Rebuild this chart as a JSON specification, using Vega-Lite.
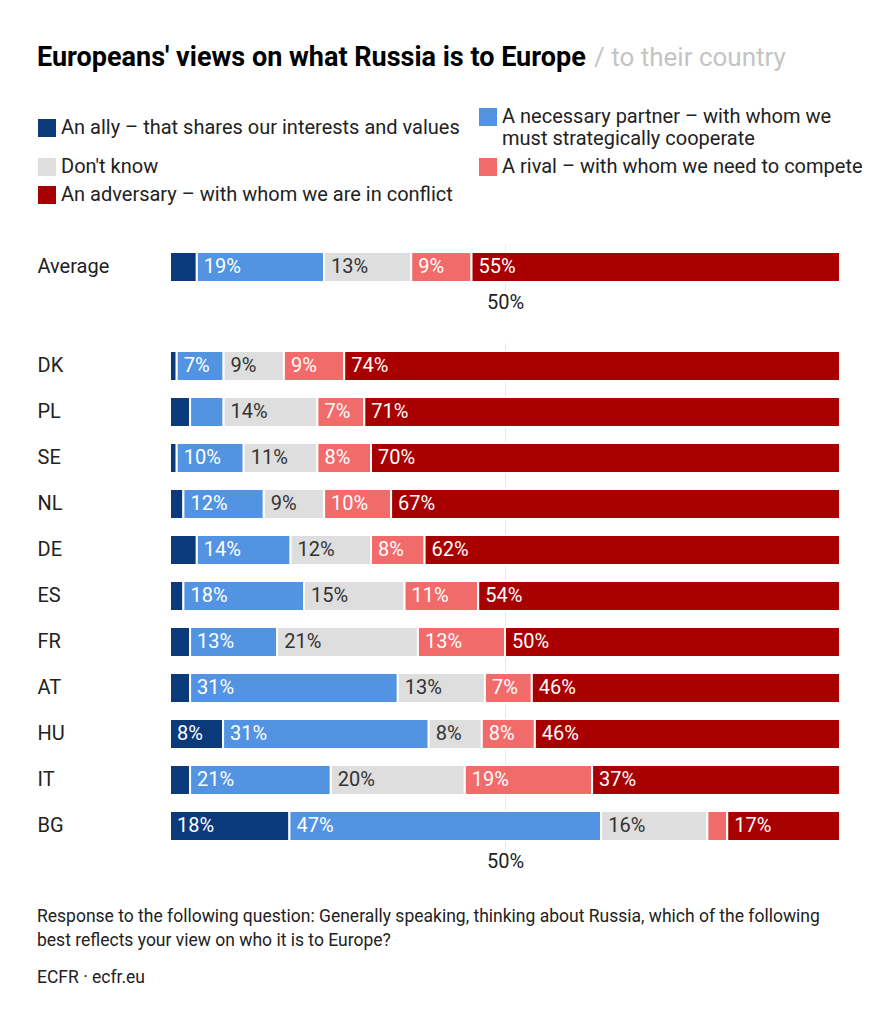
{
 "$schema": "https://vega.github.io/schema/vega-lite/v6.json",
 "padding": {"left": 37, "top": 44, "right": 0, "bottom": 0},
 "background": "white",
 "config": {
  "font": "Roboto",
  "view": {"stroke": null},
  "axis": {"domain": false, "ticks": false, "labelFont": "Roboto", "labelFontSize": 20, "labelColor": "#222", "title": null},
  "concat": {"spacing": 31}
 },
 "datasets": {
  "survey": [
   {"group": "avg", "country": "Average", "order": 1, "cat": "An ally – that shares our interests and values", "value": 0.04},
   {"group": "avg", "country": "Average", "order": 2, "cat": "A necessary partner – with whom we must strategically cooperate", "value": 0.19},
   {"group": "avg", "country": "Average", "order": 3, "cat": "Don't know", "value": 0.13},
   {"group": "avg", "country": "Average", "order": 4, "cat": "A rival – with whom we need to compete", "value": 0.09},
   {"group": "avg", "country": "Average", "order": 5, "cat": "An adversary – with whom we are in conflict", "value": 0.55},
   {"group": "c", "country": "DK", "order": 1, "cat": "An ally – that shares our interests and values", "value": 0.01},
   {"group": "c", "country": "DK", "order": 2, "cat": "A necessary partner – with whom we must strategically cooperate", "value": 0.07},
   {"group": "c", "country": "DK", "order": 3, "cat": "Don't know", "value": 0.09},
   {"group": "c", "country": "DK", "order": 4, "cat": "A rival – with whom we need to compete", "value": 0.09},
   {"group": "c", "country": "DK", "order": 5, "cat": "An adversary – with whom we are in conflict", "value": 0.74},
   {"group": "c", "country": "PL", "order": 1, "cat": "An ally – that shares our interests and values", "value": 0.03},
   {"group": "c", "country": "PL", "order": 2, "cat": "A necessary partner – with whom we must strategically cooperate", "value": 0.05},
   {"group": "c", "country": "PL", "order": 3, "cat": "Don't know", "value": 0.14},
   {"group": "c", "country": "PL", "order": 4, "cat": "A rival – with whom we need to compete", "value": 0.07},
   {"group": "c", "country": "PL", "order": 5, "cat": "An adversary – with whom we are in conflict", "value": 0.71},
   {"group": "c", "country": "SE", "order": 1, "cat": "An ally – that shares our interests and values", "value": 0.01},
   {"group": "c", "country": "SE", "order": 2, "cat": "A necessary partner – with whom we must strategically cooperate", "value": 0.10},
   {"group": "c", "country": "SE", "order": 3, "cat": "Don't know", "value": 0.11},
   {"group": "c", "country": "SE", "order": 4, "cat": "A rival – with whom we need to compete", "value": 0.08},
   {"group": "c", "country": "SE", "order": 5, "cat": "An adversary – with whom we are in conflict", "value": 0.70},
   {"group": "c", "country": "NL", "order": 1, "cat": "An ally – that shares our interests and values", "value": 0.02},
   {"group": "c", "country": "NL", "order": 2, "cat": "A necessary partner – with whom we must strategically cooperate", "value": 0.12},
   {"group": "c", "country": "NL", "order": 3, "cat": "Don't know", "value": 0.09},
   {"group": "c", "country": "NL", "order": 4, "cat": "A rival – with whom we need to compete", "value": 0.10},
   {"group": "c", "country": "NL", "order": 5, "cat": "An adversary – with whom we are in conflict", "value": 0.67},
   {"group": "c", "country": "DE", "order": 1, "cat": "An ally – that shares our interests and values", "value": 0.04},
   {"group": "c", "country": "DE", "order": 2, "cat": "A necessary partner – with whom we must strategically cooperate", "value": 0.14},
   {"group": "c", "country": "DE", "order": 3, "cat": "Don't know", "value": 0.12},
   {"group": "c", "country": "DE", "order": 4, "cat": "A rival – with whom we need to compete", "value": 0.08},
   {"group": "c", "country": "DE", "order": 5, "cat": "An adversary – with whom we are in conflict", "value": 0.62},
   {"group": "c", "country": "ES", "order": 1, "cat": "An ally – that shares our interests and values", "value": 0.02},
   {"group": "c", "country": "ES", "order": 2, "cat": "A necessary partner – with whom we must strategically cooperate", "value": 0.18},
   {"group": "c", "country": "ES", "order": 3, "cat": "Don't know", "value": 0.15},
   {"group": "c", "country": "ES", "order": 4, "cat": "A rival – with whom we need to compete", "value": 0.11},
   {"group": "c", "country": "ES", "order": 5, "cat": "An adversary – with whom we are in conflict", "value": 0.54},
   {"group": "c", "country": "FR", "order": 1, "cat": "An ally – that shares our interests and values", "value": 0.03},
   {"group": "c", "country": "FR", "order": 2, "cat": "A necessary partner – with whom we must strategically cooperate", "value": 0.13},
   {"group": "c", "country": "FR", "order": 3, "cat": "Don't know", "value": 0.21},
   {"group": "c", "country": "FR", "order": 4, "cat": "A rival – with whom we need to compete", "value": 0.13},
   {"group": "c", "country": "FR", "order": 5, "cat": "An adversary – with whom we are in conflict", "value": 0.50},
   {"group": "c", "country": "AT", "order": 1, "cat": "An ally – that shares our interests and values", "value": 0.03},
   {"group": "c", "country": "AT", "order": 2, "cat": "A necessary partner – with whom we must strategically cooperate", "value": 0.31},
   {"group": "c", "country": "AT", "order": 3, "cat": "Don't know", "value": 0.13},
   {"group": "c", "country": "AT", "order": 4, "cat": "A rival – with whom we need to compete", "value": 0.07},
   {"group": "c", "country": "AT", "order": 5, "cat": "An adversary – with whom we are in conflict", "value": 0.46},
   {"group": "c", "country": "HU", "order": 1, "cat": "An ally – that shares our interests and values", "value": 0.08},
   {"group": "c", "country": "HU", "order": 2, "cat": "A necessary partner – with whom we must strategically cooperate", "value": 0.31},
   {"group": "c", "country": "HU", "order": 3, "cat": "Don't know", "value": 0.08},
   {"group": "c", "country": "HU", "order": 4, "cat": "A rival – with whom we need to compete", "value": 0.08},
   {"group": "c", "country": "HU", "order": 5, "cat": "An adversary – with whom we are in conflict", "value": 0.46},
   {"group": "c", "country": "IT", "order": 1, "cat": "An ally – that shares our interests and values", "value": 0.03},
   {"group": "c", "country": "IT", "order": 2, "cat": "A necessary partner – with whom we must strategically cooperate", "value": 0.21},
   {"group": "c", "country": "IT", "order": 3, "cat": "Don't know", "value": 0.20},
   {"group": "c", "country": "IT", "order": 4, "cat": "A rival – with whom we need to compete", "value": 0.19},
   {"group": "c", "country": "IT", "order": 5, "cat": "An adversary – with whom we are in conflict", "value": 0.37},
   {"group": "c", "country": "BG", "order": 1, "cat": "An ally – that shares our interests and values", "value": 0.18},
   {"group": "c", "country": "BG", "order": 2, "cat": "A necessary partner – with whom we must strategically cooperate", "value": 0.47},
   {"group": "c", "country": "BG", "order": 3, "cat": "Don't know", "value": 0.16},
   {"group": "c", "country": "BG", "order": 4, "cat": "A rival – with whom we need to compete", "value": 0.03},
   {"group": "c", "country": "BG", "order": 5, "cat": "An adversary – with whom we are in conflict", "value": 0.17}
  ]
 },
 "vconcat": [
  {
   "spacing": 8,
   "hconcat": [
    {
     "width": 1, "height": 1,
     "data": {"values": []},
     "mark": "text",
     "encoding": {},
     "title": {"text": "Europeans' views on what Russia is to Europe", "fontSize": 27, "fontWeight": "bold", "color": "#000", "anchor": "start", "offset": 3, "dx": -133, "font": "Roboto"}
    },
    {
     "width": 1, "height": 1,
     "data": {"values": []},
     "mark": "text",
     "encoding": {},
     "title": {"text": "/ to their country", "fontSize": 26, "fontWeight": "normal", "color": "#c4c4c4", "anchor": "start", "offset": 4, "dx": -133, "font": "Roboto"}
    }
   ]
  },
  {
   "width": 670, "height": 46,
   "data": {"name": "survey"},
   "transform": [
    {"filter": "datum.group == 'avg'"},
    {"stack": "value", "groupby": ["country"], "sort": [{"field": "order", "order": "ascending"}], "as": ["v0", "v1"], "offset": "normalize"}
   ],
   "encoding": {
    "y": {"field": "country", "type": "nominal", "scale": {"paddingInner": 0.35, "paddingOuter": 0.175}, "axis": {"labelAlign": "left", "labelPadding": 133, "labelFontSize": 20}}
   },
   "layer": [
    {
     "mark": {"type": "bar", "stroke": "white", "strokeWidth": 2},
     "encoding": {
      "x": {"field": "v0", "type": "quantitative", "scale": {"domain": [0, 1]}, "axis": {"values": [0.5], "format": ".0%", "grid": true, "gridColor": "#e8e8e8", "labelPadding": 2}},
      "x2": {"field": "v1"},
      "color": {
       "field": "cat", "type": "nominal",
       "scale": {"domain": ["An ally – that shares our interests and values", "A necessary partner – with whom we must strategically cooperate", "Don't know", "A rival – with whom we need to compete", "An adversary – with whom we are in conflict"], "range": ["#0a3a7a", "#5294e2", "#dedede", "#f26b6b", "#a80000"]},
       "legend": {"orient": "none", "legendX": -133, "legendY": -137, "direction": "horizontal", "columns": 2, "title": null, "symbolType": "square", "symbolSize": 324, "symbolStrokeWidth": 0, "symbolOpacity": 1, "labelFontSize": 20, "labelColor": "#222", "labelLimit": 700, "rowPadding": 8, "columnPadding": 18, "labelFont": "Roboto",
        "labelExpr": "datum.label == 'A necessary partner – with whom we must strategically cooperate' ? ['A necessary partner – with whom we', 'must strategically cooperate'] : datum.label"}
      }
     }
    },
    {
     "transform": [{"filter": "datum.value >= 0.07"}],
     "mark": {"type": "text", "align": "left", "baseline": "middle", "dx": 7, "fontSize": 20},
     "encoding": {
      "x": {"field": "v0", "type": "quantitative"},
      "text": {"field": "value", "type": "quantitative", "format": ".0%"},
      "color": {"condition": {"test": "datum.order == 3", "value": "#333"}, "value": "white"}
     }
    }
   ]
  },
  {
   "width": 670, "height": 506,
   "data": {"name": "survey"},
   "transform": [
    {"filter": "datum.group == 'c'"},
    {"stack": "value", "groupby": ["country"], "sort": [{"field": "order", "order": "ascending"}], "as": ["v0", "v1"], "offset": "normalize"}
   ],
   "title": {"text": ["Response to the following question: Generally speaking, thinking about Russia, which of the following", "best reflects your view on who it is to Europe?"], "orient": "bottom", "anchor": "start", "fontSize": 17.5, "fontWeight": "normal", "lineHeight": 24, "color": "#222", "offset": 37, "font": "Roboto", "subtitle": "ECFR · ecfr.eu", "subtitleFontSize": 17.5, "subtitleColor": "#222", "subtitlePadding": 19, "subtitleFont": "Roboto"},
   "encoding": {
    "y": {"field": "country", "type": "nominal", "sort": ["DK", "PL", "SE", "NL", "DE", "ES", "FR", "AT", "HU", "IT", "BG"], "scale": {"paddingInner": 0.35, "paddingOuter": 0.175}, "axis": {"labelAlign": "left", "labelPadding": 133, "labelFontSize": 20}}
   },
   "layer": [
    {
     "mark": {"type": "bar", "stroke": "white", "strokeWidth": 2},
     "encoding": {
      "x": {"field": "v0", "type": "quantitative", "scale": {"domain": [0, 1]}, "axis": {"values": [0.5], "format": ".0%", "grid": true, "gridColor": "#e8e8e8", "labelPadding": 2}},
      "x2": {"field": "v1"},
      "color": {
       "field": "cat", "type": "nominal",
       "scale": {"domain": ["An ally – that shares our interests and values", "A necessary partner – with whom we must strategically cooperate", "Don't know", "A rival – with whom we need to compete", "An adversary – with whom we are in conflict"], "range": ["#0a3a7a", "#5294e2", "#dedede", "#f26b6b", "#a80000"]},
       "legend": null
      }
     }
    },
    {
     "transform": [{"filter": "datum.value >= 0.07"}],
     "mark": {"type": "text", "align": "left", "baseline": "middle", "dx": 7, "fontSize": 20},
     "encoding": {
      "x": {"field": "v0", "type": "quantitative"},
      "text": {"field": "value", "type": "quantitative", "format": ".0%"},
      "color": {"condition": {"test": "datum.order == 3", "value": "#333"}, "value": "white"}
     }
    }
   ]
  }
 ],
 "resolve": {"scale": {"color": "independent"}, "legend": {"color": "independent"}}
}
